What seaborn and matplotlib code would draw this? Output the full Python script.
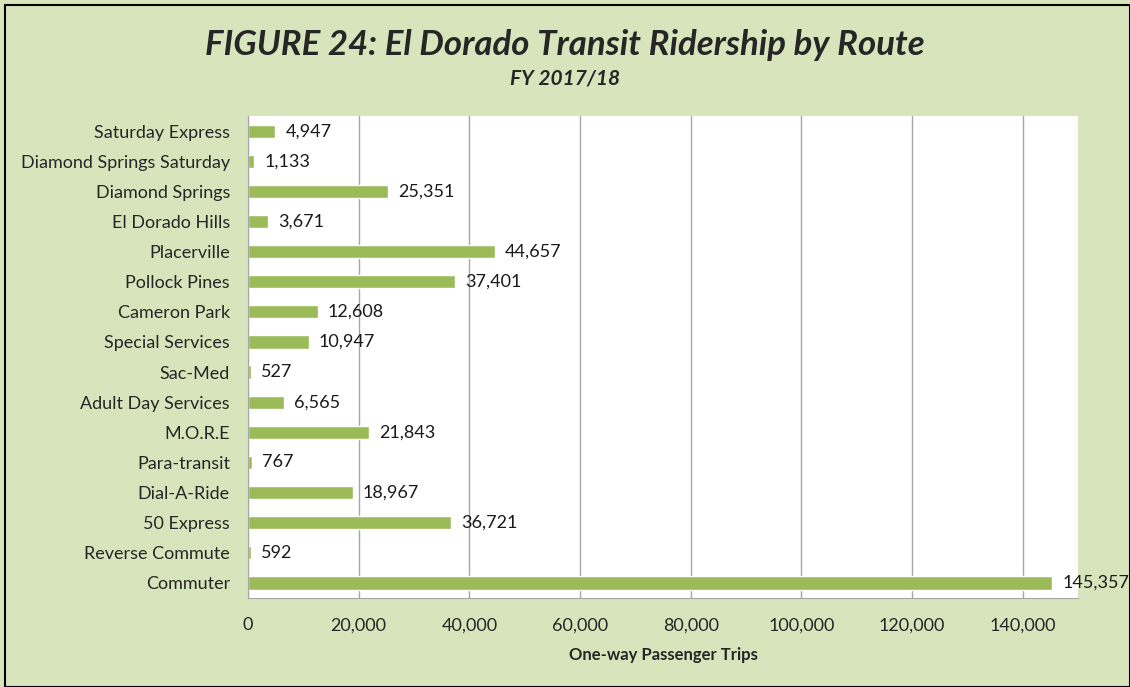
import matplotlib
matplotlib.use("Agg")
import matplotlib.pyplot as plt
import seaborn as sns
from matplotlib.ticker import FuncFormatter
from matplotlib.patches import Rectangle

routes = ["Saturday Express", "Diamond Springs Saturday", "Diamond Springs",
          "El Dorado Hills", "Placerville", "Pollock Pines", "Cameron Park",
          "Special Services", "Sac-Med", "Adult Day Services", "M.O.R.E",
          "Para-transit", "Dial-A-Ride", "50 Express", "Reverse Commute", "Commuter"]
trips = [4947, 1133, 25351, 3671, 44657, 37401, 12608, 10947, 527, 6565,
         21843, 767, 18967, 36721, 592, 145357]
x_ticks = [0, 20000, 40000, 60000, 80000, 100000, 120000, 140000]

sns.set_style("white")
plt.rcParams["font.family"] = ["Lato", "DejaVu Sans"]

bg = "#D8E4BC"
fig = plt.figure(figsize=(11.3, 6.87), dpi=100, facecolor=bg)
ax = fig.add_axes([0.2195, 0.1296, 0.7345, 0.7014])

sns.barplot(x=trips, y=routes, color="#9BBB59", width=0.44, saturation=1, ax=ax)

ax.set_xlim(0, 150000)
ax.set_xticks(x_ticks)
ax.xaxis.set_major_formatter(FuncFormatter(lambda v, p: f"{int(v):,}"))
ax.grid(axis="x", color="#A6A6A6", linewidth=1)
ax.set_axisbelow(True)
for s in ["top", "right"]:
    ax.spines[s].set_visible(False)
for s in ["left", "bottom"]:
    ax.spines[s].set_color("#A6A6A6")
ax.tick_params(axis="x", length=6, color="#A6A6A6", labelsize=13, pad=8, direction="out")
ax.tick_params(axis="y", length=0, labelsize=13, pad=13)
ax.set_yticks(range(len(routes)))
ax.set_yticks([i - 0.5 for i in range(len(routes) + 1)], minor=True)
ax.tick_params(axis="y", which="minor", length=5, color="#A6A6A6", direction="out")
ax.set_ylim(len(routes) - 0.5, -0.5)

for i, v in enumerate(trips):
    ax.text(v + 1800, i, f"{v:,}", va="center", ha="left", fontsize=13, color="#1a1a1a",
            clip_on=False)

ax.set_xlabel("One-way Passenger Trips", fontsize=12, fontweight="bold", labelpad=10)
ax.set_ylabel("")

fig.text(0.5, 0.934, "FIGURE 24: El Dorado Transit Ridership by Route", ha="center",
         va="center", fontsize=25, fontweight="bold", fontstyle="italic")
fig.text(0.5, 0.886, "FY 2017/18", ha="center", va="center", fontsize=15,
         fontweight="bold", fontstyle="italic")

fig.patches.append(Rectangle((0.004, 0.0), 0.996, 0.993, transform=fig.transFigure,
                             fill=False, edgecolor="black", linewidth=1.5))

fig.savefig("out.png", dpi=100, facecolor=bg)
